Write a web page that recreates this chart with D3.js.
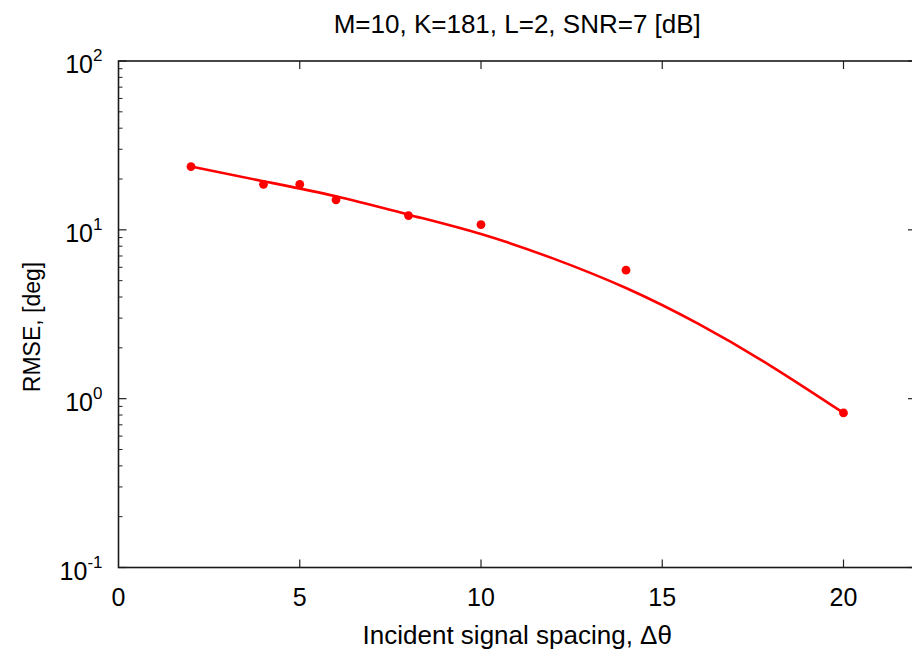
<!DOCTYPE html>
<html>
<head>
<meta charset="utf-8">
<script src="https://cdn.jsdelivr.net/npm/d3@7"></script>
<style>
  body { margin: 0; background: #fff; }
  svg { font-family: "Liberation Sans", Arial, sans-serif; }
</style>
</head>
<body>
<div id="chart"></div>
<script>
// measured points (RMSE vs spacing)
var spacing = [2, 4, 5, 6, 8, 10, 14, 20];
var rmse = [23.7, 18.6, 18.6, 15.05, 12.15, 10.75, 5.77, 0.823];

// fitted curve
var fitX = [2, 4, 6, 8, 10, 12, 14, 16, 18, 20];
var fitY = [23.7, 19.4, 15.8, 12.3, 9.44, 6.75, 4.52, 2.77, 1.56, 0.823];

var xTicks = [0, 5, 10, 15, 20];
var yDecades = [-1, 0, 1, 2];
var titleText = "M=10, K=181, L=2, SNR=7 [dB]";

var svgWidth = 912, svgHeight = 657;
var margin = {top: 61, right: -4, bottom: 89.5, left: 118.5};
var width = svgWidth - margin.left - margin.right;
var height = svgHeight - margin.top - margin.bottom;

var svg = d3.select("#chart").append("svg")
  .attr("width", svgWidth)
  .attr("height", svgHeight);

var g = svg.append("g")
  .attr("transform", `translate(${margin.left}, ${margin.top})`);

var xScale = d3.scaleLinear().domain([0, 22]).range([0, width]);
var yScale = d3.scaleLog().domain([0.1, 100]).range([height, 0]);

// minor ticks 2..9 per decade
var minor = [];
yDecades.slice(0, 3).forEach(function(e) {
  for (var k = 2; k <= 9; k++) minor.push(k * Math.pow(10, e));
});

var tickCol = "#222";

// left & right ticks
[0, width].forEach(function(x0) {
  var dir = x0 === 0 ? 1 : -1;
  g.selectAll(null).data(yDecades).enter().append("line")
    .attr("x1", x0).attr("x2", x0 + dir * 8)
    .attr("y1", d => yScale(Math.pow(10, d))).attr("y2", d => yScale(Math.pow(10, d)))
    .attr("stroke", tickCol).attr("stroke-width", 1.2);
  g.selectAll(null).data(minor).enter().append("line")
    .attr("x1", x0).attr("x2", x0 + dir * 4)
    .attr("y1", d => yScale(d)).attr("y2", d => yScale(d))
    .attr("stroke", tickCol).attr("stroke-width", 1);
});

// top & bottom ticks
[0, height].forEach(function(y0) {
  var dir = y0 === 0 ? 1 : -1;
  g.selectAll(null).data(xTicks.slice(1)).enter().append("line")
    .attr("x1", d => xScale(d)).attr("x2", d => xScale(d))
    .attr("y1", y0).attr("y2", y0 + dir * 8)
    .attr("stroke", tickCol).attr("stroke-width", 1.2);
});

// frame
g.append("rect")
  .attr("width", width).attr("height", height)
  .attr("fill", "none").attr("stroke", "#1a1a1a").attr("stroke-width", 1.6);

// x tick labels
g.selectAll(null).data(xTicks).enter().append("text")
  .attr("x", d => xScale(d))
  .attr("y", height + 38)
  .attr("text-anchor", "middle")
  .attr("font-size", 25)
  .text(d => d);

// y tick labels 10^e
var yl = g.selectAll(null).data(yDecades).enter().append("text")
  .attr("x", -16)
  .attr("y", d => yScale(Math.pow(10, d)) + 12)
  .attr("text-anchor", "end")
  .attr("font-size", 25);
yl.append("tspan").text("10");
yl.append("tspan")
  .attr("dy", -12)
  .attr("font-size", 17)
  .text(d => d);

// fitted curve
var line = d3.line()
  .x(d => xScale(d[0]))
  .y(d => yScale(d[1]))
  .curve(d3.curveNatural);

g.append("path")
  .datum(d3.zip(fitX, fitY))
  .attr("d", line)
  .attr("fill", "none")
  .attr("stroke", "#ff0000")
  .attr("stroke-width", 2.6);

// measured points
g.selectAll("circle").data(d3.zip(spacing, rmse)).enter().append("circle")
  .attr("cx", d => xScale(d[0]))
  .attr("cy", d => yScale(d[1]))
  .attr("r", 4.4)
  .attr("fill", "#ff0000");

// title and axis labels
svg.append("text")
  .attr("x", margin.left + xScale(11))
  .attr("y", 33)
  .attr("text-anchor", "middle")
  .attr("font-size", 26)
  .text(titleText);

svg.append("text")
  .attr("x", margin.left + xScale(11))
  .attr("y", 644)
  .attr("text-anchor", "middle")
  .attr("font-size", 26)
  .text("Incident signal spacing, \u0394\u03b8");

svg.append("text")
  .attr("transform", "translate(40, 327) rotate(-90)")
  .attr("text-anchor", "middle")
  .attr("font-size", 23)
  .text("RMSE, [deg]");
</script>
</body>
</html>
